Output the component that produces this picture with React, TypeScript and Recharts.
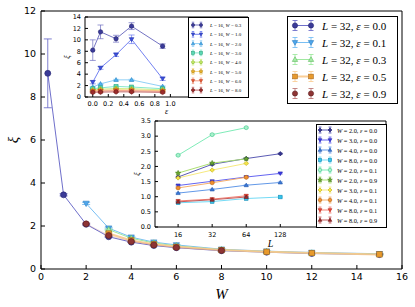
import React from 'react';
import { LineChart, Line, XAxis, YAxis, ErrorBar, Legend, Label } from 'recharts';

// ---------------- Main plot (L = 32) ----------------
const mainL = 32;
const mainEps = [0.0, 0.1, 0.3, 0.5, 0.9];
const mainW_e00 = [0.3, 1, 2, 3, 4, 5, 6, 8, 10, 12, 15];
const mainXi_e00 = [9.1, 3.45, 2.08, 1.5, 1.25, 1.09, 0.99, 0.85, 0.78, 0.72, 0.67];
const mainErr_e00 = [1.6, 0.05, 0.04, 0.03, 0.02, 0.02, 0.02, 0.02, 0.02, 0.02, 0.02];
const mainW_e01 = [2, 3, 4, 5, 6, 8, 10, 12, 15];
const mainXi_e01 = [3.05, 1.9, 1.48, 1.25, 1.12, 0.92, 0.83, 0.77, 0.71];
const mainErr_e01 = [0.05, 0.04, 0.03, 0.02, 0.02, 0.02, 0.02, 0.02, 0.02];
const mainW_e03 = [3, 4, 5, 6, 8, 10, 12, 15];
const mainXi_e03 = [1.83, 1.43, 1.21, 1.08, 0.9, 0.81, 0.75, 0.69];
const mainErr_e03 = [0.03, 0.03, 0.02, 0.02, 0.02, 0.02, 0.02, 0.02];
const mainW_e05 = [3, 4, 5, 6, 8, 10, 12, 15];
const mainXi_e05 = [1.65, 1.33, 1.15, 1.03, 0.88, 0.8, 0.74, 0.68];
const mainErr_e05 = [0.03, 0.03, 0.02, 0.02, 0.02, 0.02, 0.02, 0.02];
const mainW_e09 = [2, 3, 4, 5, 6, 8];
const mainXi_e09 = [2.1, 1.56, 1.28, 1.12, 1.0, 0.86];
const mainErr_e09 = [0.04, 0.03, 0.02, 0.02, 0.02, 0.02];
const mainXTicks = [0, 2, 4, 6, 8, 10, 12, 14, 16];
const mainYTicks = [0, 2, 4, 6, 8, 10, 12];

// ---------------- Inset 1 (L = 16, xi vs epsilon) ----------------
const in1L = 16;
const in1Eps = [0.0, 0.1, 0.3, 0.5, 0.9];
const in1W = [0.3, 1.0, 2.0, 3.0, 4.0, 5.0, 6.0, 8.0];
const in1Xi_W03 = [8.2, 11.4, 10.2, 12.4, 8.9];
const in1Err_W03 = [1.8, 1.2, 0.6, 0.6, 0.4];
const in1Xi_W10 = [2.6, 5.1, 7.4, 10.1, 3.2];
const in1Err_W10 = [0.3, 0.25, 0.3, 0.75, 0.3];
const in1Xi_W20 = [1.75, 2.3, 3.0, 3.0, 1.85];
const in1Xi_W30 = [1.45, 1.6, 1.85, 1.75, 1.45];
const in1Xi_W40 = [1.25, 1.35, 1.5, 1.45, 1.25];
const in1Xi_W50 = [1.1, 1.18, 1.28, 1.25, 1.1];
const in1Xi_W60 = [0.98, 1.05, 1.12, 1.1, 0.98];
const in1Xi_W80 = [0.82, 0.86, 0.9, 0.9, 0.82];
const in1ErrSmall = [0.1, 0.1, 0.1, 0.1, 0.1];
const in1XTicks = [0, 0.2, 0.4, 0.6, 0.8, 1.0];
const in1YTicks = [0, 2, 4, 6, 8, 10, 12, 14];

// ---------------- Inset 2 (xi vs L) ----------------
const in2L = [16, 32, 64, 128];
const in2Xi_W2e00 = [1.65, 2.07, 2.26, 2.42];
const in2Xi_W3e00 = [1.37, 1.51, 1.65, 1.77];
const in2Xi_W4e00 = [1.12, 1.24, 1.38, 1.47];
const in2Xi_W8e00 = [0.8, 0.84, 0.94, 0.99];
const in2Xi_W2e01 = [2.37, 3.05, 3.28];
const in2Xi_W2e09 = [1.78, 2.11, 2.25];
const in2Xi_W3e01 = [1.62, 1.88, 2.1];
const in2Xi_W4e01 = [1.29, 1.46, 1.64];
const in2Xi_W8e01 = [0.86, 0.92, 1.03];
const in2Xi_W8e09 = [0.83, 0.9, 0.99];
const in2W = [2.0, 3.0, 4.0, 8.0, 2.0, 2.0, 3.0, 4.0, 8.0, 8.0];
const in2E = [0.0, 0.0, 0.0, 0.0, 0.1, 0.9, 0.1, 0.1, 0.1, 0.9];
const in2XTicks = [16, 32, 64, 128];
const in2YTicks = [0, 0.5, 1.0, 1.5, 2.0, 2.5, 3.0, 3.5];

// ---------------- helpers ----------------
const serif = '"Liberation Serif", "DejaVu Serif", serif';
const sans = '"DejaVu Sans", "Liberation Sans", sans-serif';

type Pt = { x: number; y: number; e: number };
type Sty = { shape: string; marker: string; edge: string; line: string; lw: number; lo: number; legLine: boolean };
type Series = Sty & { key: string; parts: [string, boolean][]; pts: Pt[] };

const toPts = (xs: number[], ys: number[], es: number[]): Pt[] => ys.map((y, i) => ({ x: xs[i], y, e: es[i] }));

function polyPts(n: number, cx: number, cy: number, r: number, rot: number) {
  const a0 = (rot * Math.PI) / 180;
  const out: string[] = [];
  for (let k = 0; k < n; k++) {
    const a = a0 + (k * 2 * Math.PI) / n;
    out.push(`${cx + r * Math.cos(a)},${cy + r * Math.sin(a)}`);
  }
  return out.join(' ');
}
function starPts(cx: number, cy: number, ro: number, ri: number) {
  const out: string[] = [];
  for (let k = 0; k < 10; k++) {
    const a = -Math.PI / 2 + (k * Math.PI) / 5;
    const r = k % 2 === 0 ? ro : ri;
    out.push(`${cx + r * Math.cos(a)},${cy + r * Math.sin(a)}`);
  }
  return out.join(' ');
}
function markerEl(shape: string, cx: number, cy: number, r: number, fill: string, stroke: string, key?: string) {
  const c = { fill, stroke, strokeWidth: 0.6 };
  switch (shape) {
    case 's':
      return <rect key={key} x={cx - r * 0.9} y={cy - r * 0.9} width={r * 1.8} height={r * 1.8} {...c} />;
    case '^':
      return <polygon key={key} points={polyPts(3, cx, cy + r * 0.15, r * 1.2, -90)} {...c} />;
    case 'v':
      return <polygon key={key} points={polyPts(3, cx, cy - r * 0.15, r * 1.2, 90)} {...c} />;
    case 'D':
      return <polygon key={key} points={polyPts(4, cx, cy, r * 1.1, -90)} {...c} />;
    case 'p':
      return <polygon key={key} points={polyPts(5, cx, cy, r * 1.05, -90)} {...c} />;
    case 'h':
      return <polygon key={key} points={polyPts(6, cx, cy, r * 1.05, -90)} {...c} />;
    case '*':
      return <polygon key={key} points={starPts(cx, cy, r * 1.35, r * 0.6)} {...c} />;
    default:
      return <circle key={key} cx={cx} cy={cy} r={r} {...c} />;
  }
}

function MathLabel({ parts }: { parts: [string, boolean][] }) {
  return (
    <>
      {parts.map(([t, it], i) => (
        <tspan key={i} fontStyle={it ? 'italic' : 'normal'}>{t}</tspan>
      ))}
    </>
  );
}

type LegCfg = { w: number; h: number; y0: number; dy: number; m1: number; m2: number; tx: number; fs: number; r: number; eh: number; cw: number };
function LegendBox({ items, cfg }: { items: Series[]; cfg: LegCfg }) {
  return (
    <svg width={cfg.w} height={cfg.h} style={{ display: 'block', overflow: 'visible' }}>
      <rect x={0.5} y={0.5} width={cfg.w - 1} height={cfg.h - 1} fill="#fff" stroke="#000" strokeWidth={1} />
      {items.map((s, i) => {
        const cy = cfg.y0 + i * cfg.dy;
        return (
          <g key={s.key}>
            {s.legLine && (
              <line x1={cfg.m1} x2={cfg.m2} y1={cy} y2={cy} stroke={s.line} strokeWidth={s.lw} strokeOpacity={s.lo} />
            )}
            {[cfg.m1, cfg.m2].map((mx, j) => (
              <g key={j}>
                <line x1={mx} x2={mx} y1={cy - cfg.eh} y2={cy + cfg.eh} stroke={s.line} strokeWidth={0.8} />
                <line x1={mx - cfg.cw / 2} x2={mx + cfg.cw / 2} y1={cy - cfg.eh} y2={cy - cfg.eh} stroke={s.line} strokeWidth={0.8} />
                <line x1={mx - cfg.cw / 2} x2={mx + cfg.cw / 2} y1={cy + cfg.eh} y2={cy + cfg.eh} stroke={s.line} strokeWidth={0.8} />
                {markerEl(s.shape, mx, cy, cfg.r, s.marker, s.edge)}
              </g>
            ))}
            <text x={cfg.tx} y={cy} dominantBaseline="central" fontSize={cfg.fs} fontFamily={serif} fill="#000">
              <MathLabel parts={s.parts} />
            </text>
          </g>
        );
      })}
    </svg>
  );
}

const yLabel = (xPos: number, fs: number) => (props: any) => {
  const vb = props.viewBox || { y: 0, height: 0 };
  const y = vb.y + vb.height / 2;
  return (
    <text x={xPos} y={y} transform={`rotate(-90, ${xPos}, ${y})`} textAnchor="middle" dominantBaseline="central"
      fontSize={fs} fontFamily={serif} fontStyle="italic" fill="#000">ξ</text>
  );
};

// ---------------- series ----------------
const mainStyles: Sty[] = [
  { shape: 'o', marker: '#3b3b98', edge: '#23236e', line: '#5f5fc4', lw: 1, lo: 0.9, legLine: true },
  { shape: 'v', marker: '#4ea6ec', edge: '#2f7fc0', line: '#6ab8f2', lw: 1, lo: 0.9, legLine: true },
  { shape: '^', marker: '#a6eca6', edge: '#5fb85f', line: '#96e696', lw: 1, lo: 0.9, legLine: true },
  { shape: 's', marker: '#e89a2c', edge: '#a8681a', line: '#f9c98c', lw: 2, lo: 0.9, legLine: true },
  { shape: 'o', marker: '#8e3434', edge: '#5e1e1e', line: '#b56a6a', lw: 1, lo: 0.25, legLine: false },
];
const mainRaw = [
  toPts(mainW_e00, mainXi_e00, mainErr_e00),
  toPts(mainW_e01, mainXi_e01, mainErr_e01),
  toPts(mainW_e03, mainXi_e03, mainErr_e03),
  toPts(mainW_e05, mainXi_e05, mainErr_e05),
  toPts(mainW_e09, mainXi_e09, mainErr_e09),
];
const mainSeries: Series[] = mainEps.map((e, i) => ({
  ...mainStyles[i],
  key: `m${i}`,
  parts: [['L', true], [` = ${mainL}, `, false], ['ε', true], [` = ${e.toFixed(1)}`, false]],
  pts: mainRaw[i],
}));

const in1Styles: Sty[] = [
  { shape: 'o', marker: '#3b3b9a', edge: '#23236e', line: '#6d6dc0', lw: 1, lo: 0.95, legLine: true },
  { shape: 'v', marker: '#3d4fe0', edge: '#2434a8', line: '#6a7af0', lw: 1, lo: 0.95, legLine: true },
  { shape: '^', marker: '#4fb0f0', edge: '#2c86c4', line: '#8acdf6', lw: 1, lo: 0.95, legLine: true },
  { shape: 's', marker: '#5ad8b4', edge: '#2ca880', line: '#80e6c8', lw: 1, lo: 0.95, legLine: true },
  { shape: 'p', marker: '#c4ea6a', edge: '#88b82a', line: '#cdee88', lw: 1, lo: 0.95, legLine: true },
  { shape: '*', marker: '#f0b72a', edge: '#b88610', line: '#f7d582', lw: 1, lo: 0.95, legLine: true },
  { shape: 'v', marker: '#f0603a', edge: '#b83a1c', line: '#f59a80', lw: 1, lo: 0.95, legLine: true },
  { shape: 'h', marker: '#9c2c2c', edge: '#6a1a1a', line: '#c06060', lw: 1, lo: 0.95, legLine: true },
];
const in1Vals = [in1Xi_W03, in1Xi_W10, in1Xi_W20, in1Xi_W30, in1Xi_W40, in1Xi_W50, in1Xi_W60, in1Xi_W80];
const in1Errs = [in1Err_W03, in1Err_W10, in1ErrSmall, in1ErrSmall, in1ErrSmall, in1ErrSmall, in1ErrSmall, in1ErrSmall];
const in1Series: Series[] = in1W.map((w, i) => ({
  ...in1Styles[i],
  key: `a${i}`,
  parts: [['L', true], [` = ${in1L}, `, false], ['W', true], [` = ${w.toFixed(1)}`, false]],
  pts: toPts(in1Eps, in1Vals[i], in1Errs[i]),
}));

const in2Styles: Sty[] = [
  { shape: 'D', marker: '#34348e', edge: '#1e1e66', line: '#5252b0', lw: 1, lo: 0.95, legLine: true },
  { shape: 'v', marker: '#3b3bea', edge: '#2222a8', line: '#5c5cf0', lw: 1, lo: 0.95, legLine: true },
  { shape: '^', marker: '#3a78d8', edge: '#2256a8', line: '#5a92e6', lw: 1, lo: 0.95, legLine: true },
  { shape: 's', marker: '#36c4ec', edge: '#1a90b8', line: '#6cd8f4', lw: 1, lo: 0.95, legLine: true },
  { shape: 'o', marker: '#a8f0cc', edge: '#40c88a', line: '#78eab4', lw: 1, lo: 0.95, legLine: true },
  { shape: '*', marker: '#6aa830', edge: '#46801a', line: '#a6dc6a', lw: 1, lo: 0.95, legLine: true },
  { shape: 'D', marker: '#f4e44a', edge: '#c0ac14', line: '#f6e878', lw: 1, lo: 0.95, legLine: true },
  { shape: 'o', marker: '#f09030', edge: '#b86410', line: '#f4ac66', lw: 1, lo: 0.95, legLine: true },
  { shape: 'v', marker: '#f04838', edge: '#b02418', line: '#f47a6c', lw: 1, lo: 0.95, legLine: true },
  { shape: '^', marker: '#a02a2a', edge: '#701616', line: '#c05454', lw: 1, lo: 0.95, legLine: true },
];
const in2Vals = [in2Xi_W2e00, in2Xi_W3e00, in2Xi_W4e00, in2Xi_W8e00, in2Xi_W2e01, in2Xi_W2e09, in2Xi_W3e01, in2Xi_W4e01, in2Xi_W8e01, in2Xi_W8e09];
const in2ErrSmall = [0.02, 0.02, 0.02, 0.02];
const in2Series: Series[] = in2W.map((w, i) => ({
  ...in2Styles[i],
  key: `b${i}`,
  parts: [['W', true], [` = ${w.toFixed(1)}, `, false], ['ε', true], [` = ${in2E[i].toFixed(1)}`, false]],
  pts: toPts(in2L, in2Vals[i], in2ErrSmall),
}));

const noOffsetLegend = { layout: 'vertical' as const, align: 'center' as const, verticalAlign: 'middle' as const };

function renderLines(series: Series[], xId: string, yId: string, r: number, capW: number, errW: number) {
  return series.map((s) => (
    <Line
      key={s.key}
      xAxisId={xId}
      yAxisId={yId}
      data={s.pts}
      dataKey="y"
      stroke={s.line}
      strokeWidth={s.lw}
      strokeOpacity={s.lo}
      isAnimationActive={false}
      activeDot={false}
      dot={(p: any) => markerEl(s.shape, p.cx, p.cy, r, s.marker, s.edge, `${s.key}-${p.index}`)}
    >
      <ErrorBar dataKey="e" direction="y" width={capW} stroke={s.line} strokeWidth={errW} isAnimationActive={false} />
    </Line>
  ));
}

export default function App() {
  const tickMain = { fill: '#000', fontSize: 9.5, fontFamily: sans };
  const tickSmall = { fill: '#000', fontSize: 6.5, fontFamily: sans };
  return (
    <div style={{ position: 'absolute', left: 0, top: 0, width: 415, height: 307, background: '#fff' }}>
      {/* Main plot */}
      <div style={{ position: 'absolute', left: 0, top: 0 }}>
        <LineChart width={415} height={307} margin={{ top: 10, right: 12, bottom: 0, left: 11 }}>
          <XAxis xAxisId="b" type="number" dataKey="x" domain={[0, 16]} ticks={mainXTicks} interval={0}
            allowDataOverflow tickSize={-4} tickMargin={8} height={38} stroke="#000" tick={tickMain}>
            <Label value="W" position="insideBottom" offset={8} fontSize={15} fontFamily={serif} fontStyle="italic" fill="#000" />
          </XAxis>
          <XAxis xAxisId="t" orientation="top" type="number" dataKey="x" domain={[0, 16]} ticks={mainXTicks} interval={0}
            allowDataOverflow tickSize={-4} height={1} stroke="#000" tick={false} />
          <YAxis yAxisId="l" type="number" domain={[0, 12]} ticks={mainYTicks} interval={0} allowDataOverflow
            tickSize={-4} tickMargin={9} width={30} stroke="#000" tick={tickMain}>
            <Label content={yLabel(13, 15)} />
          </YAxis>
          <YAxis yAxisId="r" orientation="right" type="number" domain={[0, 12]} ticks={mainYTicks} interval={0}
            allowDataOverflow tickSize={-4} width={1} stroke="#000" tick={false} />
          {renderLines(mainSeries, 'b', 'l', 3, 4, 0.8)}
          <Legend {...noOffsetLegend} wrapperStyle={{ left: 287, top: 16, width: 111, height: 88 }}
            content={() => (
              <LegendBox items={mainSeries} cfg={{ w: 111, h: 88, y0: 9.5, dy: 17, m1: 8, m2: 24, tx: 35, fs: 11, r: 2.6, eh: 5, cw: 5 }} />
            )} />
        </LineChart>
      </div>

      {/* Inset 1 */}
      <div style={{ position: 'absolute', left: 0, top: 0 }}>
        <LineChart width={415} height={307} margin={{ top: 16, right: 166, bottom: 190, left: 67 }}>
          <XAxis xAxisId="b" type="number" dataKey="x" domain={[-0.1, 2.0]} ticks={in1XTicks} interval={0}
            allowDataOverflow tickSize={-3} tickMargin={7} height={20} stroke="#000" tick={tickSmall}
            tickFormatter={(v: number) => v.toFixed(1)}>
            <Label value="ε" position="insideBottom" offset={3} fontSize={8} fontFamily={serif} fontStyle="italic" fill="#000" />
          </XAxis>
          <XAxis xAxisId="t" orientation="top" type="number" dataKey="x" domain={[-0.1, 2.0]} ticks={in1XTicks} interval={0}
            allowDataOverflow tickSize={-3} height={1} stroke="#000" tick={false} />
          <YAxis yAxisId="l" type="number" domain={[0, 14]} ticks={in1YTicks} interval={0} allowDataOverflow
            tickSize={-3} tickMargin={7} width={18} stroke="#000" tick={tickSmall}>
            <Label content={yLabel(67, 8)} />
          </YAxis>
          <YAxis yAxisId="r" orientation="right" type="number" domain={[0, 14]} ticks={in1YTicks} interval={0}
            allowDataOverflow tickSize={-3} width={1} stroke="#000" tick={false} />
          {renderLines(in1Series, 'b', 'l', 2.2, 3, 0.7)}
          <Legend {...noOffsetLegend} wrapperStyle={{ left: 188, top: 17, width: 61, height: 81 }}
            content={() => (
              <LegendBox items={in1Series} cfg={{ w: 61, h: 81, y0: 8, dy: 9.3, m1: 5, m2: 13, tx: 22, fs: 5, r: 1.6, eh: 2.8, cw: 2.5 }} />
            )} />
        </LineChart>
      </div>

      {/* Inset 2 */}
      <div style={{ position: 'absolute', left: 0, top: 0 }}>
        <LineChart width={415} height={307} margin={{ top: 120, right: 28, bottom: 58, left: 130 }}>
          <XAxis xAxisId="b" type="number" scale="log" dataKey="x" domain={[10, 1100]} ticks={in2XTicks} interval={0}
            allowDataOverflow tickSize={-3} tickMargin={8} height={22} stroke="#000" tick={tickSmall}>
            <Label value="L" position="insideBottom" offset={2} fontSize={10} fontFamily={serif} fontStyle="italic" fill="#000" />
          </XAxis>
          <XAxis xAxisId="t" orientation="top" type="number" scale="log" dataKey="x" domain={[10, 1100]} ticks={in2XTicks} interval={0}
            allowDataOverflow tickSize={-3} height={1} stroke="#000" tick={false} />
          <YAxis yAxisId="l" type="number" domain={[0, 3.5]} ticks={in2YTicks} interval={0} allowDataOverflow
            tickSize={-3} tickMargin={7} width={25} stroke="#000" tick={tickSmall}
            tickFormatter={(v: number) => v.toFixed(1)}>
            <Label content={yLabel(137, 8)} />
          </YAxis>
          <YAxis yAxisId="r" orientation="right" type="number" domain={[0, 3.5]} ticks={in2YTicks} interval={0}
            allowDataOverflow tickSize={-3} width={1} stroke="#000" tick={false} />
          {renderLines(in2Series, 'b', 'l', 2, 2.5, 0.6)}
          <Legend {...noOffsetLegend} wrapperStyle={{ left: 316, top: 124, width: 71, height: 104 }}
            content={() => (
              <LegendBox items={in2Series} cfg={{ w: 71, h: 104, y0: 6, dy: 10, m1: 4, m2: 14, tx: 21, fs: 6.3, r: 1.8, eh: 3, cw: 3 }} />
            )} />
        </LineChart>
      </div>
    </div>
  );
}
